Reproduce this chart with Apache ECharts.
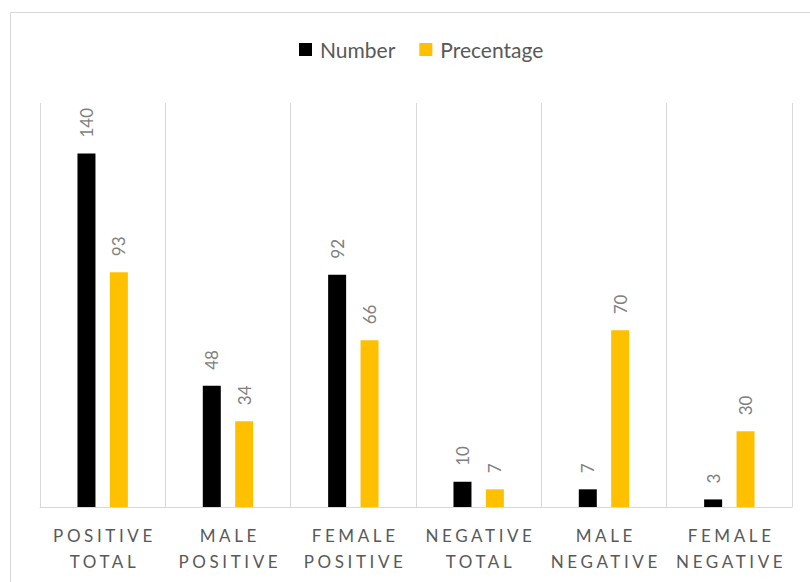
<!DOCTYPE html>
<html>
<head>
<meta charset="utf-8">
<script src="https://cdn.jsdelivr.net/npm/echarts@6/dist/echarts.min.js"></script>
<style>
html, body { margin: 0; padding: 0; background: #fff; }
#chart { width: 810px; height: 582px; }
</style>
</head>
<body>
<div id="chart"></div>
<script>
// categories and values
const categories = ['POSITIVE\nTOTAL', 'MALE\nPOSITIVE', 'FEMALE\nPOSITIVE', 'NEGATIVE\nTOTAL', 'MALE\nNEGATIVE', 'FEMALE\nNEGATIVE']
const numberValues = [140, 48, 92, 10, 7, 3]
const percentValues = [93, 34, 66, 7, 70, 30]
const seriesNames = ['Number', 'Precentage']

const font = 'Lato'
const chart = echarts.init(document.getElementById('chart'), null, { renderer: 'svg' })

const labelOpt = {
  show: true,
  position: 'top',
  rotate: 90,
  align: 'left',
  verticalAlign: 'middle',
  distance: 16,
  color: '#7f7f7f',
  fontSize: 17,
  fontFamily: font
}

const option = {
  animation: false,
  textStyle: { fontFamily: font },
  graphic: [{
    type: 'rect',
    z: -1,
    shape: { x: 10.5, y: 12.5, width: 900, height: 700 },
    style: { fill: 'none', stroke: '#d9d9d9', lineWidth: 1 }
  }],
  legend: {
    left: 294,
    top: 34,
    icon: 'rect',
    itemWidth: 13,
    itemHeight: 13,
    itemGap: 24,
    textStyle: { color: '#595959', fontSize: 21, fontFamily: font, padding: [0, 0, 0, 3] },
    data: seriesNames
  },
  grid: { left: 40, right: 18, top: 103, bottom: 75 },
  xAxis: {
    type: 'category',
    data: categories,
    axisLine: { lineStyle: { color: '#d9d9d9', width: 1 } },
    axisTick: { show: false },
    splitLine: { show: true, lineStyle: { color: '#d9d9d9', width: 1 } },
    axisLabel: {
      color: '#595959',
      fontSize: 17,
      fontFamily: font,
      lineHeight: 26,
      margin: 15,
      interval: 0
    }
  },
  yAxis: {
    type: 'value',
    min: 0,
    max: 160,
    show: false,
    splitLine: { show: false }
  },
  series: [
    {
      name: seriesNames[0],
      type: 'bar',
      data: numberValues,
      barWidth: 18,
      barGap: '80%',
      itemStyle: { color: '#000000' },
      label: labelOpt
    },
    {
      name: seriesNames[1],
      type: 'bar',
      data: percentValues,
      barWidth: 18,
      itemStyle: { color: '#ffc000' },
      label: labelOpt
    }
  ]
}

chart.setOption(option)

// letter spacing on the category labels (svg text)
function spaceLabels() {
  document.querySelectorAll('#chart svg text').forEach(t => {
    if (/^[A-Z]+$/.test(t.textContent.trim())) {
      t.setAttribute('letter-spacing', '3.6')
      t.setAttribute('dx', '1.8')
    }
  })
}
spaceLabels()
chart.on('finished', spaceLabels)
</script>
</body>
</html>
